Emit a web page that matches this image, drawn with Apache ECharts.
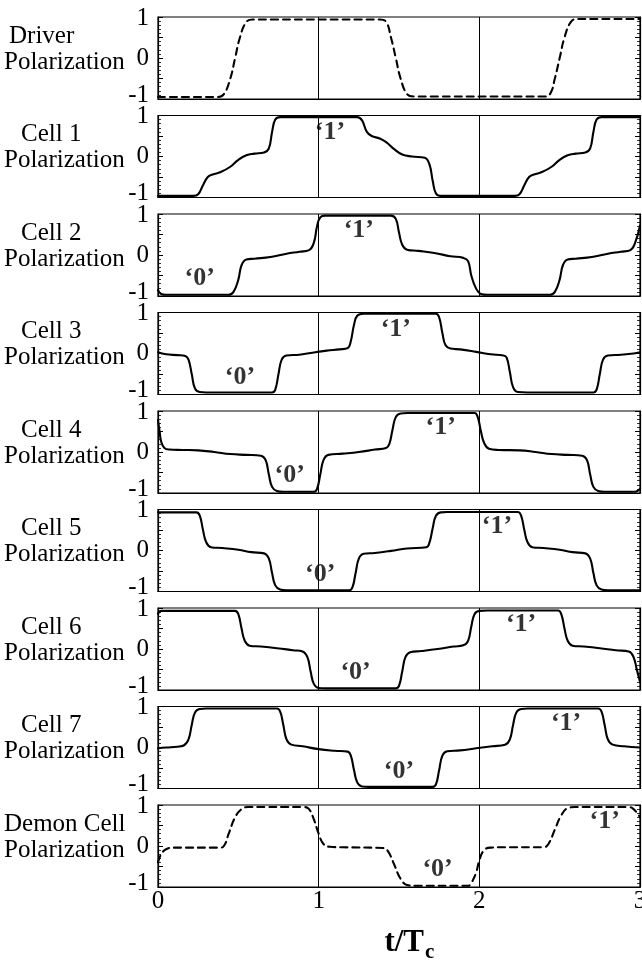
<!DOCTYPE html>
<html>
<head>
<meta charset="utf-8">
<title>QCA shift register polarization</title>
<script src="https://cdn.jsdelivr.net/npm/echarts@6.0.0/dist/echarts.min.js"></script>
<style>
  html, body { margin: 0; padding: 0; background: #fff; }
  #chart { width: 642px; height: 961px; }
</style>
</head>
<body>
<div id="chart"></div>
<script>
// ---- data: polarization P versus normalized time t/Tc, as [t, P] pairs ----
const driver = [[0,-0.95],[0.37,-0.95],[0.41,-0.88],[0.45,-0.5],[0.48,0.0],[0.51,0.5],[0.55,0.88],[0.59,0.94],[1.38,0.94],[1.42,0.88],[1.45,0.5],[1.48,0.0],[1.51,-0.5],[1.55,-0.88],[1.59,-0.94],[2.40,-0.94],[2.44,-0.88],[2.47,-0.5],[2.50,0.0],[2.53,0.5],[2.57,0.88],[2.61,0.95],[3.0,0.95]];
const cell1 = [[0,-0.96],[0.22,-0.96],[0.25,-0.92],[0.28,-0.7],[0.31,-0.5],[0.34,-0.44],[0.39,-0.38],[0.45,-0.25],[0.50,-0.08],[0.55,0.03],[0.60,0.07],[0.66,0.1],[0.69,0.2],[0.71,0.6],[0.73,0.9],[0.76,0.96],[1.24,0.96],[1.27,0.88],[1.30,0.6],[1.33,0.5],[1.38,0.44],[1.42,0.35],[1.47,0.18],[1.52,0.05],[1.58,0.0],[1.66,-0.03],[1.69,-0.2],[1.71,-0.6],[1.73,-0.9],[1.76,-0.96],[2.22,-0.96],[2.25,-0.92],[2.28,-0.7],[2.31,-0.5],[2.34,-0.44],[2.39,-0.38],[2.45,-0.25],[2.50,-0.08],[2.55,0.03],[2.60,0.07],[2.66,0.1],[2.69,0.2],[2.71,0.6],[2.73,0.9],[2.76,0.96],[3.0,0.96]];
const cell2 = [[0,-0.86],[0.02,-0.95],[0.05,-0.97],[0.44,-0.97],[0.47,-0.9],[0.50,-0.6],[0.52,-0.25],[0.55,-0.11],[0.60,-0.09],[0.70,-0.05],[0.80,0.03],[0.88,0.08],[0.94,0.12],[0.97,0.3],[0.99,0.7],[1.01,0.92],[1.04,0.96],[1.45,0.96],[1.48,0.88],[1.50,0.55],[1.52,0.25],[1.55,0.13],[1.62,0.1],[1.72,0.05],[1.82,-0.03],[1.90,-0.07],[1.93,-0.15],[1.95,-0.5],[1.98,-0.82],[2.01,-0.95],[2.05,-0.97],[2.44,-0.97],[2.47,-0.9],[2.50,-0.6],[2.52,-0.25],[2.55,-0.11],[2.60,-0.09],[2.70,-0.05],[2.80,0.03],[2.88,0.08],[2.94,0.12],[2.97,0.3],[3.0,0.72]];
const cell3 = [[0,0.03],[0.05,-0.02],[0.12,-0.04],[0.17,-0.06],[0.19,-0.15],[0.21,-0.5],[0.23,-0.85],[0.26,-0.94],[0.30,-0.95],[0.71,-0.95],[0.73,-0.88],[0.75,-0.5],[0.77,-0.15],[0.80,-0.05],[0.88,-0.03],[0.98,0.03],[1.05,0.07],[1.13,0.1],[1.18,0.13],[1.20,0.3],[1.22,0.7],[1.24,0.92],[1.28,0.97],[1.73,0.97],[1.75,0.88],[1.77,0.5],[1.79,0.2],[1.82,0.12],[1.88,0.1],[1.98,0.04],[2.07,-0.02],[2.15,-0.05],[2.17,-0.1],[2.19,-0.45],[2.21,-0.82],[2.24,-0.94],[2.30,-0.95],[2.71,-0.95],[2.73,-0.88],[2.75,-0.5],[2.77,-0.15],[2.80,-0.05],[2.88,-0.03],[2.96,0.0],[3.0,0.03]];
const cell4 = [[0,0.78],[0.01,0.5],[0.02,0.25],[0.04,0.1],[0.07,0.06],[0.15,0.05],[0.25,0.04],[0.35,0.0],[0.45,-0.05],[0.55,-0.07],[0.64,-0.09],[0.67,-0.2],[0.69,-0.55],[0.71,-0.85],[0.74,-0.95],[0.78,-0.97],[0.97,-0.97],[0.99,-0.9],[1.01,-0.55],[1.03,-0.2],[1.06,-0.07],[1.15,-0.04],[1.25,0.0],[1.35,0.06],[1.42,0.1],[1.44,0.2],[1.46,0.55],[1.48,0.85],[1.51,0.94],[1.55,0.95],[1.97,0.95],[1.99,0.85],[2.01,0.5],[2.03,0.22],[2.06,0.08],[2.12,0.05],[2.25,0.04],[2.35,0.0],[2.45,-0.05],[2.55,-0.07],[2.64,-0.09],[2.67,-0.2],[2.69,-0.55],[2.71,-0.85],[2.74,-0.95],[2.78,-0.97],[2.97,-0.97],[3.0,-0.9]];
const cell5 = [[0,0.93],[0.24,0.93],[0.26,0.85],[0.28,0.5],[0.30,0.2],[0.33,0.08],[0.40,0.06],[0.50,0.02],[0.58,-0.04],[0.66,-0.07],[0.69,-0.2],[0.71,-0.55],[0.73,-0.85],[0.76,-0.95],[0.80,-0.97],[1.19,-0.97],[1.21,-0.9],[1.23,-0.55],[1.25,-0.2],[1.28,-0.08],[1.35,-0.06],[1.45,-0.01],[1.55,0.05],[1.67,0.08],[1.69,0.2],[1.71,0.55],[1.73,0.85],[1.76,0.93],[1.80,0.94],[2.24,0.94],[2.26,0.85],[2.28,0.5],[2.30,0.2],[2.33,0.08],[2.40,0.06],[2.50,0.02],[2.58,-0.04],[2.66,-0.07],[2.69,-0.2],[2.71,-0.55],[2.73,-0.85],[2.76,-0.95],[2.80,-0.97],[3.0,-0.97]];
const cell6 = [[0,0.86],[0.02,0.93],[0.48,0.93],[0.50,0.85],[0.52,0.5],[0.54,0.2],[0.57,0.08],[0.64,0.06],[0.74,0.02],[0.84,-0.03],[0.90,-0.06],[0.93,-0.2],[0.95,-0.55],[0.97,-0.85],[1.00,-0.95],[1.04,-0.96],[1.48,-0.96],[1.50,-0.9],[1.52,-0.55],[1.54,-0.2],[1.57,-0.08],[1.64,-0.05],[1.74,0.0],[1.84,0.06],[1.90,0.09],[1.93,0.2],[1.95,0.55],[1.97,0.85],[2.00,0.93],[2.05,0.94],[2.49,0.94],[2.51,0.85],[2.53,0.5],[2.55,0.2],[2.58,0.08],[2.65,0.06],[2.75,0.02],[2.85,-0.03],[2.93,-0.06],[2.96,-0.2],[2.98,-0.5],[3.0,-0.8]];
const cell7 = [[0,-0.02],[0.05,0.0],[0.12,0.02],[0.16,0.05],[0.19,0.2],[0.21,0.55],[0.23,0.85],[0.26,0.94],[0.30,0.95],[0.74,0.95],[0.76,0.88],[0.78,0.55],[0.80,0.2],[0.83,0.07],[0.90,0.03],[1.00,-0.04],[1.10,-0.08],[1.18,-0.1],[1.20,-0.2],[1.22,-0.55],[1.24,-0.85],[1.27,-0.95],[1.31,-0.96],[1.71,-0.96],[1.73,-0.9],[1.75,-0.55],[1.77,-0.2],[1.80,-0.09],[1.88,-0.07],[1.98,-0.02],[2.08,0.03],[2.16,0.07],[2.19,0.2],[2.21,0.55],[2.23,0.85],[2.26,0.94],[2.30,0.95],[2.74,0.95],[2.76,0.88],[2.78,0.55],[2.80,0.2],[2.83,0.07],[2.90,0.03],[3.0,0.0]];
const demon = [[0,-0.4],[0.02,-0.2],[0.05,-0.08],[0.10,-0.04],[0.38,-0.04],[0.41,0.0],[0.44,0.3],[0.48,0.7],[0.52,0.9],[0.56,0.95],[0.91,0.95],[0.94,0.9],[0.97,0.65],[1.00,0.3],[1.03,0.05],[1.07,-0.02],[1.15,-0.03],[1.40,-0.05],[1.43,-0.12],[1.47,-0.45],[1.51,-0.8],[1.55,-0.95],[1.60,-0.97],[1.93,-0.97],[1.95,-0.9],[1.98,-0.65],[2.00,-0.35],[2.03,-0.1],[2.07,-0.04],[2.15,-0.03],[2.40,-0.03],[2.43,0.05],[2.47,0.4],[2.51,0.75],[2.55,0.92],[2.60,0.95],[2.93,0.95],[2.96,0.9],[3.0,0.7]];

// panel order, titles and line style
const curves = [driver, cell1, cell2, cell3, cell4, cell5, cell6, cell7, demon];
const titleLine1 = ['Driver', 'Cell 1', 'Cell 2', 'Cell 3', 'Cell 4', 'Cell 5', 'Cell 6', 'Cell 7', 'Demon Cell'];
const titleLine2 = 'Polarization';
const dashedPanels = [true, false, false, false, false, false, false, false, true];

// logic-state annotations per panel: [t, P, text]
const bitLabels = [
  [],
  [[1.07, 0.58, '‘1’']],
  [[0.26, -0.58, '‘0’'], [1.25, 0.6, '‘1’']],
  [[0.51, -0.58, '‘0’'], [1.48, 0.6, '‘1’']],
  [[0.82, -0.58, '‘0’'], [1.76, 0.6, '‘1’']],
  [[1.01, -0.58, '‘0’'], [2.11, 0.6, '‘1’']],
  [[1.23, -0.58, '‘0’'], [2.26, 0.6, '‘1’']],
  [[1.50, -0.58, '‘0’'], [2.54, 0.6, '‘1’']],
  [[1.74, -0.58, '‘0’'], [2.78, 0.6, '‘1’']]
];

const tRange = [0, 3];
const pRange = [-1, 1];

// ---- layout ----
const SERIF = '"Liberation Serif", "Times New Roman", serif';
const LEFT = 158, RIGHT = 2, TOP0 = 17, PANEL_H = 82, STEP = 98.5;

const tickFont = { fontFamily: SERIF, fontSize: 25, color: '#000' };
const grids = [], xAxes = [], yAxes = [], series = [], graphics = [];

curves.forEach((curve, i) => {
  const top = TOP0 + i * STEP;
  const last = i === curves.length - 1;
  grids.push({ left: LEFT, right: RIGHT, top: top, height: PANEL_H, show: true,
    outerBoundsMode: 'none', containLabel: false,
    borderColor: '#000', borderWidth: 1.2, backgroundColor: 'transparent' });

  xAxes.push({
    gridIndex: i, type: 'value', min: tRange[0], max: tRange[1], interval: 1,
    axisLine: { show: true, onZero: false, lineStyle: { color: '#000', width: 1.2 } },
    axisTick: { show: last, inside: true, length: 5, lineStyle: { color: '#000' } },
    axisLabel: Object.assign({ show: last, margin: 2 }, tickFont),
    splitLine: { show: true, lineStyle: { color: '#000', width: 1 } }
  });

  const yCommon = {
    gridIndex: i, type: 'value', min: pRange[0], max: pRange[1], interval: 0.5,
    axisLine: { show: true, lineStyle: { color: '#000', width: 1.2 } },
    axisTick: { show: true, inside: true, length: 5, lineStyle: { color: '#000', width: 1 } },
    minorTick: { show: true, splitNumber: 5, length: 3, lineStyle: { color: '#000', width: 0.8 } },
    splitLine: { show: false }
  };
  yAxes.push(Object.assign({}, yCommon, {
    position: 'left',
    axisLabel: Object.assign({
      margin: 9,
      // end labels sit slightly inside the frame so neighbouring panels do not collide
      formatter: v => (v === -1 ? '{lo|-1}' : v === 1 ? '{hi|1}' : v === 0 ? '0' : ''),
      rich: {
        lo: Object.assign({ padding: [0, 0, 8, 0] }, tickFont),
        hi: Object.assign({ padding: [2, 0, 0, 0] }, tickFont)
      }
    }, tickFont)
  }));
  yAxes.push(Object.assign({}, yCommon, { position: 'right', axisLabel: { show: false } }));

  series.push({
    type: 'line', xAxisIndex: i, yAxisIndex: 2 * i, data: curve,
    smooth: 0.45, showSymbol: false, silent: true,
    lineStyle: { color: '#000', width: 2.1, type: dashedPanels[i] ? [7, 5] : 'solid',
      join: 'round', cap: 'round' }
  });

  series.push({
    type: 'scatter', xAxisIndex: i, yAxisIndex: 2 * i, data: bitLabels[i],
    symbolSize: 1, itemStyle: { color: 'rgba(0,0,0,0)' }, silent: true,
    label: { show: true, position: 'inside', formatter: p => p.value[2],
      color: '#000', fontFamily: SERIF, fontWeight: 'bold', fontSize: 26 }
  });

  const mid = top + PANEL_H / 2;
  const x1 = i === 0 ? 9 : (i === 8 ? 4 : 21);
  graphics.push({ type: 'text', x: x1, y: mid - 22,
    style: { text: titleLine1[i], font: '25px ' + SERIF, fill: '#000', verticalAlign: 'middle' } });
  graphics.push({ type: 'text', x: 4, y: mid + 4,
    style: { text: titleLine2, font: '25px ' + SERIF, fill: '#000', verticalAlign: 'middle' } });
});

// axis title t/Tc
graphics.push({ type: 'text', x: 424, y: 943,
  style: { text: 't/T', font: 'bold 31px ' + SERIF, fill: '#000', align: 'right', verticalAlign: 'middle' } });
graphics.push({ type: 'text', x: 425, y: 953,
  style: { text: 'c', font: 'bold 21px ' + SERIF, fill: '#000', align: 'left', verticalAlign: 'middle' } });

const chart = echarts.init(document.getElementById('chart'), null, { renderer: 'canvas' });
chart.setOption({
  animation: false,
  backgroundColor: '#fff',
  grid: grids,
  xAxis: xAxes,
  yAxis: yAxes,
  series: series,
  graphic: graphics
});
</script>
</body>
</html>
